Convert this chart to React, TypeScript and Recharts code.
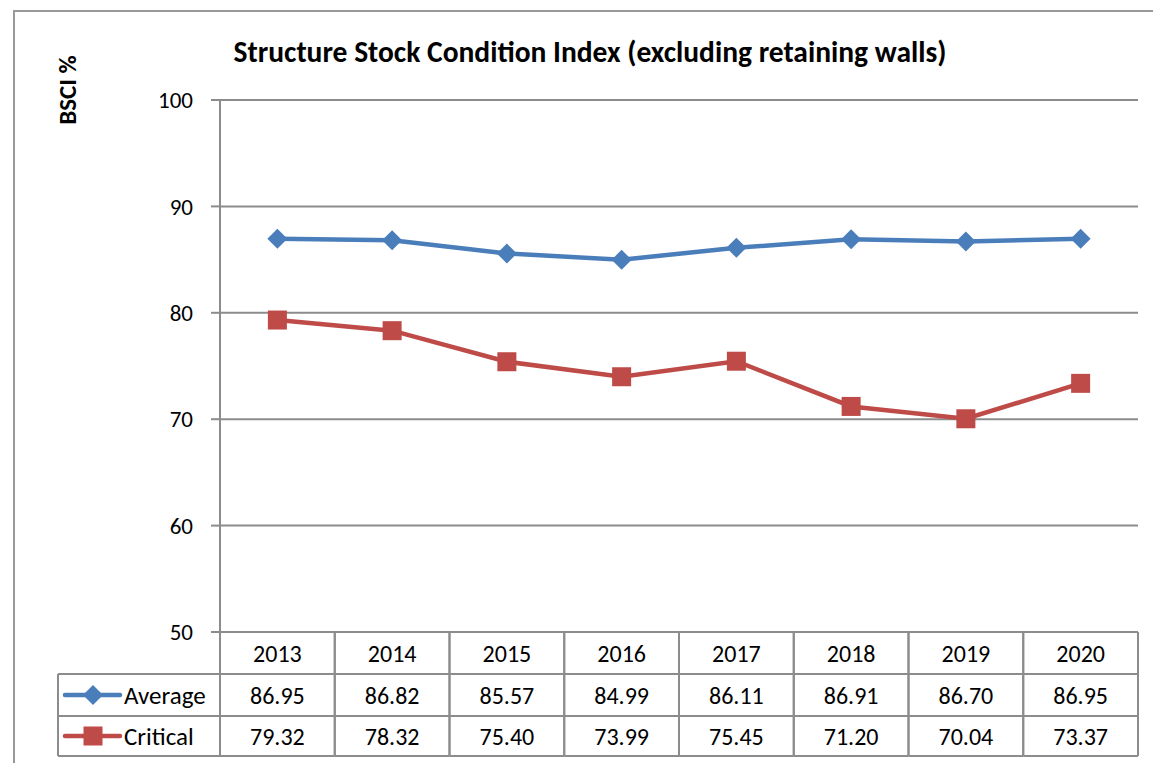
import { LineChart, Line, XAxis, YAxis, CartesianGrid } from 'recharts';

const years = ['2013', '2014', '2015', '2016', '2017', '2018', '2019', '2020'];
const average = [86.95, 86.82, 85.57, 84.99, 86.11, 86.91, 86.7, 86.95];
const critical = [79.32, 78.32, 75.4, 73.99, 75.45, 71.2, 70.04, 73.37];
const yTicks = [50, 60, 70, 80, 90, 100];

const BLUE = '#4a7ebb';
const RED = '#be4b48';
const GRID = '#8c8c8c';
const FONT = 'Calibri, Carlito, Lato, sans-serif';

const data = years.map((year, i) => ({ idx: i, year, avg: average[i], crit: critical[i] }));

const W = 1153;
const H = 763;
const PLOT_LEFT = 220;
const PLOT_RIGHT = 1138;
const COL_W = (PLOT_RIGHT - PLOT_LEFT) / years.length;
// row boundaries measured from the top of the table (the 50 gridline)
const ROWS = [0, 42, 84, 124];
const LEGEND_W = 162;

function Diamond(props: any) {
  const { cx, cy } = props;
  if (cx == null || cy == null) return null;
  const r = 10;
  return <polygon points={`${cx},${cy - r} ${cx + r},${cy} ${cx},${cy + r} ${cx - r},${cy}`} fill={BLUE} />;
}

function Square(props: any) {
  const { cx, cy } = props;
  if (cx == null || cy == null) return null;
  const r = 9.5;
  return <rect x={cx - r} y={cy - r} width={r * 2} height={r * 2} fill={RED} />;
}

function TableTick(props: any) {
  const { x, y, payload } = props;
  const i = payload.value as number;
  const left = x - COL_W / 2;
  const right = x + COL_W / 2;
  const mid = (a: number, b: number) => y + (ROWS[a] + ROWS[b]) / 2;
  const txt = { fontFamily: FONT, fontSize: 24, fill: '#000', dominantBaseline: 'central' as const };
  return (
    <g>
      <line x1={left} y1={y} x2={left} y2={y + ROWS[3]} stroke={GRID} strokeWidth={2} />
      <line x1={right} y1={y} x2={right} y2={y + ROWS[3]} stroke={GRID} strokeWidth={2} />
      {ROWS.slice(1).map((r) => (
        <line key={r} x1={left} y1={y + r} x2={right} y2={y + r} stroke={GRID} strokeWidth={2} />
      ))}
      <text x={x} y={mid(0, 1)} textAnchor="middle" {...txt}>{years[i]}</text>
      <text x={x} y={mid(1, 2)} textAnchor="middle" {...txt}>{average[i].toFixed(2)}</text>
      <text x={x} y={mid(2, 3)} textAnchor="middle" {...txt}>{critical[i].toFixed(2)}</text>
      {i === 0 && (
        <g>
          <line x1={left - LEGEND_W} y1={y + ROWS[1]} x2={left - LEGEND_W} y2={y + ROWS[3]} stroke={GRID} strokeWidth={2} />
          {ROWS.slice(1).map((r) => (
            <line key={r} x1={left - LEGEND_W} y1={y + r} x2={left} y2={y + r} stroke={GRID} strokeWidth={2} />
          ))}
          <line x1={left - 155} y1={mid(1, 2)} x2={left - 100} y2={mid(1, 2)} stroke={BLUE} strokeWidth={4.5} strokeLinecap="round" />
          <Diamond cx={left - 127} cy={mid(1, 2)} />
          <text x={left - 96} y={mid(1, 2)} textAnchor="start" {...txt} fontSize={25}>Average</text>
          <line x1={left - 155} y1={mid(2, 3)} x2={left - 100} y2={mid(2, 3)} stroke={RED} strokeWidth={4.5} strokeLinecap="round" />
          <Square cx={left - 127} cy={mid(2, 3)} />
          <text x={left - 96} y={mid(2, 3)} textAnchor="start" {...txt} fontSize={25}>Critical</text>
        </g>
      )}
    </g>
  );
}

export default function App() {
  return (
    <div style={{ position: 'absolute', left: 0, top: 0, width: W, height: H, overflow: 'hidden', background: '#fff' }}>
      <div
        style={{
          position: 'absolute',
          left: 13,
          top: 10,
          width: W,
          height: H,
          border: '2px solid #999',
          boxSizing: 'border-box',
        }}
      />
      <div
        style={{
          position: 'absolute',
          left: 140,
          top: 36,
          width: 900,
          textAlign: 'center',
          fontFamily: FONT,
          fontWeight: 'bold',
          fontSize: 29.5,
          lineHeight: '32px',
        }}
      >
        Structure Stock Condition Index (excluding retaining walls)
      </div>
      <div
        style={{
          position: 'absolute',
          left: 13,
          top: 75,
          width: 110,
          height: 30,
          textAlign: 'center',
          fontFamily: FONT,
          fontWeight: 'bold',
          fontSize: 25,
          lineHeight: '30px',
          transform: 'rotate(-90deg)',
        }}
      >
        BSCI %
      </div>
      <div style={{ position: 'absolute', left: 0, top: 0 }}>
        <LineChart width={W} height={H} data={data} margin={{ top: 100, right: W - PLOT_RIGHT, bottom: 6, left: 0 }}>
          <CartesianGrid horizontal vertical={false} stroke={GRID} strokeWidth={2} strokeDasharray="" />
          <XAxis
            type="number"
            dataKey="idx"
            domain={[-0.5, years.length - 0.5]}
            ticks={years.map((_, i) => i)}
            interval={0}
            axisLine={false}
            tickLine={false}
            tickSize={0}
            tickMargin={0}
            height={125}
            tick={<TableTick />}
          />
          <YAxis
            type="number"
            domain={[50, 100]}
            ticks={yTicks}
            interval={0}
            width={PLOT_LEFT}
            axisLine={{ stroke: GRID, strokeWidth: 2 }}
            tickLine={{ stroke: GRID, strokeWidth: 2 }}
            tickSize={9}
            tickMargin={18}
            tick={{ fontFamily: FONT, fontSize: 23, fill: '#000' }}
          />
          <Line
            dataKey="avg"
            stroke={BLUE}
            strokeWidth={4.5}
            dot={<Diamond />}
            activeDot={false}
            isAnimationActive={false}
          />
          <Line
            dataKey="crit"
            stroke={RED}
            strokeWidth={4.5}
            dot={<Square />}
            activeDot={false}
            isAnimationActive={false}
          />
        </LineChart>
      </div>
    </div>
  );
}
